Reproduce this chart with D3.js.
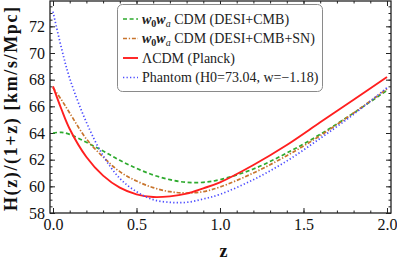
<!DOCTYPE html>
<html>
<head>
<meta charset="utf-8">
<script src="https://cdn.jsdelivr.net/npm/d3@7"></script>
<style>
  body { margin: 0; background: #fff; }
  svg text { font-family: "Liberation Serif", "DejaVu Serif", serif; }
</style>
</head>
<body>
<div id="chart"></div>
<script>
// redshift grid and H(z)/(1+z)
const zs = [0, 0.05, 0.1, 0.2, 0.3, 0.4, 0.5, 0.6, 0.7, 0.8, 0.9, 1.0, 1.2, 1.4, 1.6, 1.8, 2.0];
const greenH = [64.0, 64.05, 63.9, 63.3, 62.65, 61.95, 61.35, 60.85, 60.5, 60.3, 60.3, 60.5, 61.3, 62.5, 63.9, 65.5, 67.2];
const brownH = [67.4, 66.5, 65.5, 63.55, 62.2, 61.1, 60.4, 59.9, 59.6, 59.5, 59.6, 59.95, 61.0, 62.3, 63.8, 65.5, 67.3];
const redH = [67.5, 65.8, 64.3, 62.2, 60.8, 59.9, 59.4, 59.2, 59.25, 59.45, 59.85, 60.3, 61.6, 63.1, 64.8, 66.5, 68.2];
const blueH = [73.1, 70.4, 68.1, 64.8, 62.3, 60.6, 59.6, 59.0, 58.8, 58.8, 59.05, 59.4, 60.5, 61.9, 63.6, 65.4, 67.4];

const xTicks = [0, 0.5, 1.0, 1.5, 2.0];
const yTicks = [58, 60, 62, 64, 66, 68, 70, 72];

const series = [
  {name: "green", values: greenH, color: "#2eaa2e", dash: "4,2.6"},
  {name: "brown", values: brownH, color: "#c8742c", dash: "4,1.8,1.3,1.8"},
  {name: "red", values: redH, color: "#ff1f1f", dash: null},
  {name: "blue", values: blueH, color: "#4d4dff", dash: "1.3,2.2"}
];

const FONT = "'Liberation Serif', 'DejaVu Serif', serif";
const width = 397, height = 262;
const margin = {top: 1, right: 6, bottom: 49, left: 50};

const svg = d3.select("#chart").append("svg")
    .attr("width", width)
    .attr("height", height);

const x = d3.scaleLinear().domain([-0.018, 2.024]).range([margin.left, width - margin.right]);
const y = d3.scaleLinear().domain([58, 73.9]).range([height - margin.bottom, margin.top]);

// clip
svg.append("clipPath").attr("id", "clip")
  .append("rect")
    .attr("x", margin.left).attr("y", margin.top)
    .attr("width", x.range()[1] - margin.left)
    .attr("height", y.range()[0] - margin.top);

// axes (ticks inward, mirrored on top/right)
const xMinor = d3.range(0, 2.001, 0.1);
const yMinor = d3.range(58, 73.9, 0.5);

function tickFmt(d) { return d3.format(".1f")(d); }

svg.append("g")
    .attr("transform", "translate(0," + y.range()[0] + ")")
    .call(d3.axisBottom(x).tickValues(xMinor).tickSize(-2.5).tickFormat(""));
svg.append("g").attr("class", "x-axis")
    .attr("transform", "translate(0," + y.range()[0] + ")")
    .call(d3.axisBottom(x).tickValues(xTicks).tickSize(-5).tickPadding(6).tickFormat(tickFmt));
svg.append("g")
    .attr("transform", "translate(0," + margin.top + ")")
    .call(d3.axisTop(x).tickValues(xMinor).tickSize(-2.5).tickFormat(""));
svg.append("g")
    .attr("transform", "translate(0," + margin.top + ")")
    .call(d3.axisTop(x).tickValues(xTicks).tickSize(-5).tickFormat(""));

svg.append("g")
    .attr("transform", "translate(" + margin.left + ",0)")
    .call(d3.axisLeft(y).tickValues(yMinor).tickSize(-2.5).tickFormat(""));
svg.append("g").attr("class", "y-axis")
    .attr("transform", "translate(" + margin.left + ",0)")
    .call(d3.axisLeft(y).tickValues(yTicks).tickSize(-5).tickPadding(5).tickFormat(d3.format("d")));
svg.append("g")
    .attr("transform", "translate(" + x.range()[1] + ",0)")
    .call(d3.axisRight(y).tickValues(yMinor).tickSize(-2.5).tickFormat(""));
svg.append("g")
    .attr("transform", "translate(" + x.range()[1] + ",0)")
    .call(d3.axisRight(y).tickValues(yTicks).tickSize(-5).tickFormat(""));

svg.selectAll(".domain").remove();
svg.selectAll(".tick line").attr("stroke", "#222").attr("stroke-width", 1);
svg.selectAll(".tick text")
    .attr("fill", "#111")
    .attr("font-family", FONT)
    .attr("font-size", 16);

// frame
svg.append("rect")
    .attr("x", margin.left).attr("y", margin.top)
    .attr("width", x.range()[1] - margin.left)
    .attr("height", y.range()[0] - margin.top)
    .attr("fill", "none")
    .attr("stroke", "#222")
    .attr("stroke-width", 1.3);

// curves
const line = d3.line()
    .x((d, i) => x(zs[i]))
    .y(d => y(d))
    .curve(d3.curveCatmullRom);

svg.append("g").attr("clip-path", "url(#clip)")
  .selectAll("path")
  .data(series)
  .join("path")
    .attr("d", d => line(d.values))
    .attr("fill", "none")
    .attr("stroke", d => d.color)
    .attr("stroke-width", d => d.dash ? 1.7 : 1.9)
    .attr("stroke-dasharray", d => d.dash);

// legend
const legend = svg.append("g");
legend.append("rect")
    .attr("x", 117.5).attr("y", 4.5)
    .attr("width", 205).attr("height", 87)
    .attr("rx", 5)
    .attr("fill", "#fff")
    .attr("stroke", "#8a8a8a")
    .attr("stroke-width", 1);

const rowsY = [19, 38.5, 58, 77.5];
series.forEach((s, i) => {
  legend.append("line")
      .attr("x1", 123).attr("x2", 138)
      .attr("y1", rowsY[i]).attr("y2", rowsY[i])
      .attr("stroke", s.color)
      .attr("stroke-width", s.dash ? 1.7 : 1.9)
      .attr("stroke-dasharray", s.dash);
});

function wowa(t, suffix) {
  t.append("tspan").attr("font-style", "italic").attr("font-weight", "bold").text("w");
  t.append("tspan").attr("font-size", 10).attr("dy", 3).attr("font-weight", "bold").text("0");
  t.append("tspan").attr("font-style", "italic").attr("font-weight", "bold").attr("dy", -3).text("w");
  t.append("tspan").attr("font-style", "italic").attr("font-size", 10).attr("dy", 3).text("a");
  t.append("tspan").attr("dy", -3).text(" CDM " + suffix);
}

const labels = legend.selectAll("text.leg")
  .data(rowsY)
  .join("text")
    .attr("class", "leg")
    .attr("x", 142)
    .attr("y", d => d + 4.5)
    .attr("fill", "#222")
    .attr("font-family", FONT)
    .attr("font-size", 14);

wowa(labels.filter((d, i) => i === 0), "(DESI+CMB)");
wowa(labels.filter((d, i) => i === 1), "(DESI+CMB+SN)");
labels.filter((d, i) => i === 2).text("\u039BCDM (Planck)");
labels.filter((d, i) => i === 3).text("Phantom (H0=73.04, w=\u22121.18)");

// axis titles
svg.append("text")
    .attr("transform", "translate(17," + ((margin.top + y.range()[0]) / 2 + 2) + ") rotate(-90)")
    .attr("text-anchor", "middle")
    .attr("font-weight", "bold")
    .attr("fill", "#111")
    .attr("font-family", FONT)
    .attr("font-size", 18)
    .attr("textLength", 204)
    .attr("lengthAdjust", "spacing")
    .text("H(z)/(1+z) [km/s/Mpc]");

svg.append("text")
    .attr("x", (x.range()[0] + x.range()[1]) / 2 + 3)
    .attr("y", 257)
    .attr("text-anchor", "middle")
    .attr("font-weight", "bold")
    .attr("fill", "#111")
    .attr("font-family", FONT)
    .attr("font-size", 18)
    .text("z");
</script>
</body>
</html>
